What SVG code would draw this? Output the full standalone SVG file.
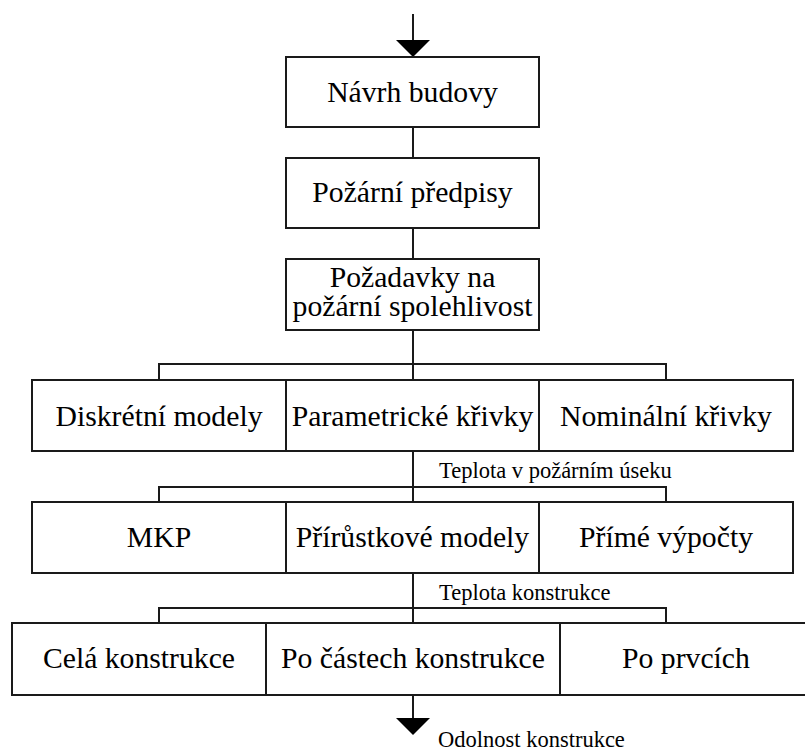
<svg xmlns="http://www.w3.org/2000/svg" width="805" height="751" viewBox="0 0 805 751">
<defs>
<style>
.box{fill:#fff;stroke:#1a1a1a;stroke-width:2}
.t{font-family:'Liberation Serif','DejaVu Serif','Times New Roman',serif;font-size:29.7px;fill:#000;text-anchor:middle}
.s{font-family:'Liberation Serif','DejaVu Serif','Times New Roman',serif;font-size:22.5px;fill:#000}
.c{fill:none;stroke:#1a1a1a;stroke-width:2}
.ah{fill:#000;stroke:none}
</style>
</defs>
<rect width="805" height="751" fill="#fff"/>
<g id="connectors">
<line class="c" x1="413" y1="14" x2="413" y2="41"/>
<polygon class="ah" points="396,40 430,40 413,57"/>
<line class="c" x1="413" y1="127" x2="413" y2="158"/>
<line class="c" x1="413" y1="228" x2="413" y2="259"/>
<line class="c" x1="413" y1="330" x2="413" y2="380"/>
<polyline class="c" points="159,380 159,364 666,364 666,380"/>
<line class="c" x1="413" y1="451" x2="413" y2="502"/>
<polyline class="c" points="159,502 159,487 666,487 666,502"/>
<line class="c" x1="413" y1="573" x2="413" y2="623"/>
<polyline class="c" points="159,623 159,608 666,608 666,623"/>
<line class="c" x1="413" y1="695" x2="413" y2="719"/>
<polygon class="ah" points="396,718 430,718 413,735"/>
<text class="s" x="439" y="478">Teplota v požárním úseku</text>
<text class="s" x="439" y="600">Teplota konstrukce</text>
<text class="s" x="438" y="747">Odolnost konstrukce</text>
</g>
<g id="navrh"><rect class="box" x="286" y="57" width="253" height="70"/><text class="t" x="412.5" y="102">Návrh budovy</text></g>
<g id="predpisy"><rect class="box" x="286" y="158" width="253" height="70"/><text class="t" x="412.5" y="202">Požární předpisy</text></g>
<g id="pozadavky"><rect class="box" x="286" y="259" width="253" height="71"/><text class="t" x="412.5" y="287">Požadavky na</text><text class="t" x="412.5" y="316">požární spolehlivost</text></g>
<g id="diskretni"><rect class="box" x="32" y="380" width="254" height="71"/><text class="t" x="159" y="426">Diskrétní modely</text></g>
<g id="parametricke"><rect class="box" x="286" y="380" width="253" height="71"/><text class="t" x="412.5" y="426">Parametrické křivky</text></g>
<g id="nominalni"><rect class="box" x="539" y="380" width="254" height="71"/><text class="t" x="666" y="426">Nominální křivky</text></g>
<g id="mkp"><rect class="box" x="32" y="502" width="254" height="71"/><text class="t" x="159" y="547">MKP</text></g>
<g id="prirustkove"><rect class="box" x="286" y="502" width="253" height="71"/><text class="t" x="412.5" y="547">Přírůstkové modely</text></g>
<g id="prime"><rect class="box" x="539" y="502" width="254" height="71"/><text class="t" x="666" y="547">Přímé výpočty</text></g>
<g id="cela"><rect class="box" x="12" y="623" width="254" height="72"/><text class="t" x="139" y="668">Celá konstrukce</text></g>
<g id="castech"><rect class="box" x="266" y="623" width="294" height="72"/><text class="t" x="413" y="668">Po částech konstrukce</text></g>
<g id="prvcich"><rect class="box" x="560" y="623" width="252" height="72"/><text class="t" x="686" y="668">Po prvcích</text></g>
</svg>
